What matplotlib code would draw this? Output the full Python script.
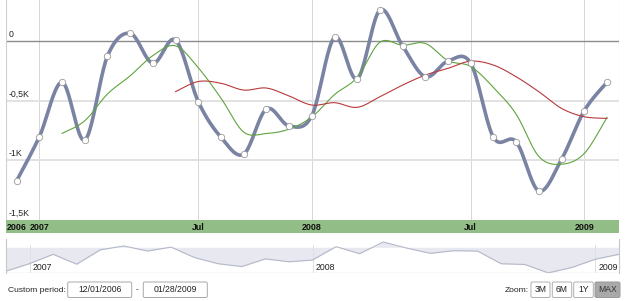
import numpy as np
import matplotlib
matplotlib.use("Agg")
import matplotlib.pyplot as plt
from matplotlib.patches import FancyBboxPatch, Rectangle

plt.rcParams['font.family'] = ['Liberation Sans', 'DejaVu Sans']

# ---- data ----
values = [-1174, -804, -347, -832, -126, 65, -187, 8, -510, -809, -950, -571, -714,
          -628, 31, -317, 260, -42, -300, -168, -187, -809, -846, -1260, -994, -586, -347]
ma_short_start = 2
ma_short = [-776, -670, -445, -292, -122, -40, -225, -480, -765, -777, -740, -638,
            -450, -305, -10, -35, -20, -165, -214, -390, -615, -970, -1035, -945, -642]
ma_long_start = 7
ma_long = [-425, -340, -355, -412, -395, -462, -538, -518, -557, -468, -370, -286,
           -229, -169, -202, -300, -426, -566, -636, -650]
yticks = [0, -500, -1000, -1500]
ytick_labels = ["0", "-0,5K", "-1K", "-1,5K"]
xtick_idx = [0, 1, 8, 13, 20, 25]
xtick_labels = ["2006", "2007", "Jul", "2008", "Jul", "2009"]
grid_idx = [1, 8, 13, 20, 25]
nav_idx = [1, 13, 25]
nav_labels = ["2007", "2008", "2009"]
period_from = "12/01/2006"
period_to = "01/28/2009"
zoom_buttons = ["3M", "6M", "1Y", "MAX"]


def catmull(xs, ys, n=24):
    xs = np.asarray(xs, float); ys = np.asarray(ys, float)
    P = np.column_stack([xs, ys])
    P = np.vstack([P[0], P, P[-1]])
    out = []
    t = np.linspace(0, 1, n)[:, None]
    for i in range(1, len(P) - 2):
        p0, p1, p2, p3 = P[i - 1], P[i], P[i + 1], P[i + 2]
        seg = 0.5 * ((2 * p1) + (-p0 + p2) * t + (2 * p0 - 5 * p1 + 4 * p2 - p3) * t ** 2
                     + (-p0 + 3 * p1 - 3 * p2 + p3) * t ** 3)
        out.append(seg if i == 1 else seg[1:])
    out = np.vstack(out)
    return out[:, 0], out[:, 1]


W, H = 625, 301
fig = plt.figure(figsize=(W / 100, H / 100), dpi=100)


def rect(x0, y0, x1, y1):
    return [x0 / W, (H - y1) / H, (x1 - x0) / W, (y1 - y0) / H]


# ---- main chart ----
ax = fig.add_axes(rect(6, 0, 619, 220))
x = np.arange(len(values))
ax.set_xlim(-0.47, 26.53)
ax.set_ylim(-1504, 345)
for s in ax.spines.values():
    s.set_visible(False)
ax.set_xticks([]); ax.set_yticks([])
for gi in grid_idx:
    ax.axvline(gi, color='#d6d6d6', lw=0.7, zorder=1)
for v in yticks[1:3]:
    ax.axhline(v, color='#e2e2e2', lw=1.4, zorder=1)
ax.axhline(0, color='#8c8c8c', lw=1.0, zorder=1)
ax.axvline(-0.47, color='#cfcfcf', lw=0.8, zorder=1)
ax.axvline(26.53, color='#cfcfcf', lw=0.8, zorder=1)
for v, lab in zip(yticks, ytick_labels):
    ax.annotate(lab, xy=(0, v), xycoords=('axes fraction', 'data'), xytext=(2, 1.5),
                textcoords='offset points', ha='left', va='bottom', fontsize=6.3,
                color='#222222', zorder=5)

sx, sy = catmull(x, values)
ax.plot(sx, sy, color='#7a83a3', lw=2.6, solid_capstyle='round', zorder=3)
gx = np.arange(ma_short_start, ma_short_start + len(ma_short))
gsx, gsy = catmull(gx, ma_short)
ax.plot(gsx, gsy, color='#5ea43e', lw=0.8, zorder=4)
rx = np.arange(ma_long_start, ma_long_start + len(ma_long))
rsx, rsy = catmull(rx, ma_long)
ax.plot(rsx, rsy, color='#b8393c', lw=0.8, zorder=4)
ax.plot(x, values, 'o', ms=4.6, mfc='white', mec='#9a9a9a', mew=0.6, zorder=5)

# ---- category band ----
band = fig.add_axes(rect(6, 220, 619, 233.3))
band.set_xlim(-0.47, 26.53); band.set_ylim(0, 1)
band.set_facecolor('#93bd87')
for s in band.spines.values():
    s.set_visible(False)
band.set_xticks([]); band.set_yticks([])
for xi, lab in zip(xtick_idx, xtick_labels):
    band.text(xi, 0.45, lab, ha='center', va='center', fontsize=6.4,
              fontweight='bold', color='#111111')

# ---- navigator ----
nav = fig.add_axes(rect(6, 233.3, 619, 273))
nav.set_xlim(0, 26); nav.set_ylim(-1265, 687)
for s in nav.spines.values():
    s.set_visible(False)
nav.set_xticks([]); nav.set_yticks([])
nav.fill_between(x, values, 0, color='#e7e8f0', lw=0, zorder=1)
nav.plot(x, values, color='#b4b8c8', lw=0.8, zorder=2)
for gi in nav_idx:
    nav.axvline(gi, ymin=0, ymax=0.71, color='#e0e0e0', lw=0.7, zorder=1.5)
for gi, lab in zip(nav_idx, nav_labels):
    nav.annotate(lab, xy=(gi, 0.126), xycoords=('data', 'axes fraction'),
                 xytext=(2, 0), textcoords='offset points', ha='left', va='center',
                 fontsize=6.3, color='#222222')
nav.plot([0, 0], [-1265, 420], color='#c8c8c8', lw=0.8, clip_on=False)
nav.plot([26, 26], [-1265, 420], color='#c8c8c8', lw=0.8, clip_on=False)
nav.axhline(-1265, color='#c8c8c8', lw=0.9)

# ---- controls ----
ov = fig.add_axes([0, 0, 1, 1])
ov.set_xlim(0, W); ov.set_ylim(H, 0); ov.axis('off')
ov.patch.set_alpha(0)
ov.text(8, 290, "Custom period:", fontsize=6.1, va='center', ha='left', color='#222222')
for (x0, x1), txt in zip([(67.7, 131.7), (143.3, 207.3)], [period_from, period_to]):
    ov.add_patch(FancyBboxPatch((x0, 282), x1 - x0, 15.5, boxstyle='round,pad=0,rounding_size=1.5',
                                fc='white', ec='#a8a8a8', lw=0.7))
    ov.text((x0 + x1) / 2, 290, txt, fontsize=6.2, ha='center', va='center', color='#222222')
ov.text(137.5, 289.5, "-", fontsize=6.2, ha='center', va='center', color='#555555')
ov.text(529, 290, "Zoom:", fontsize=6.1, ha='right', va='center', color='#222222')
btn_pos = [(531, 550), (552.3, 571.7), (573.7, 593.3), (595, 620)]
for (x0, x1), lab in zip(btn_pos, zoom_buttons):
    sel = lab == "MAX"
    ov.add_patch(FancyBboxPatch((x0, 282), x1 - x0, 15.5, boxstyle='round,pad=0,rounding_size=1.5',
                                fc='#a9a9a9' if sel else 'white',
                                ec='#9a9a9a' if sel else '#b0b0b0', lw=0.7))
    ov.text((x0 + x1) / 2, 290, lab, fontsize=6.2, ha='center', va='center',
            color='#333333' if sel else '#222222')

fig.savefig('out.png', dpi=100)
